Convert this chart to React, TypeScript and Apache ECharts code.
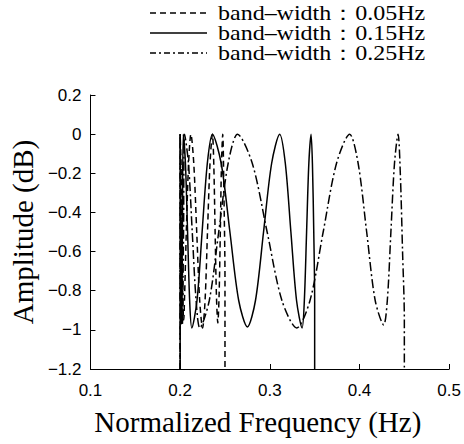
import React, { useEffect, useRef } from "react";
import * as echarts from "echarts";

const seriesNames = [
  "band–width：0.05Hz",
  "band–width：0.15Hz",
  "band–width：0.25Hz",
];

const xTicks = [0.1, 0.2, 0.3, 0.4, 0.5];
const yTicks = [-1.2, -1, -0.8, -0.6, -0.4, -0.2, 0, 0.2];

const bw005: [number, number][] = [
  [0.2, -1.2], [0.2, 0], [0.201, -0.15], [0.202, -0.5], [0.203, -0.85], [0.204, -0.95],
  [0.205, -0.82], [0.207, -0.48], [0.2095, -0.14], [0.212, 0], [0.2152, -0.15],
  [0.2185, -0.5], [0.2218, -0.85], [0.225, -0.99], [0.2278, -0.85], [0.2305, -0.5],
  [0.2333, -0.15], [0.236, 0], [0.2375, -0.15], [0.239, -0.5], [0.2405, -0.83],
  [0.242, -0.965], [0.2434, -0.83], [0.2448, -0.5], [0.2461, -0.15], [0.2475, 0],
  [0.2488, -0.3], [0.25, -0.75], [0.25, -1.2],
];

const bw015: [number, number][] = [
  [0.2, -1.2], [0.2, 0], [0.2008, -0.5], [0.2015, -0.97], [0.2025, -0.5], [0.2035, 0],
  [0.2059, -0.15], [0.2083, -0.5], [0.2106, -0.85], [0.213, -0.99], [0.2188, -0.85],
  [0.2245, -0.5], [0.2303, -0.15], [0.236, 0], [0.2458, -0.15], [0.2555, -0.5],
  [0.2653, -0.85], [0.275, -0.985], [0.284, -0.85], [0.293, -0.5], [0.302, -0.15],
  [0.311, 0], [0.3173, -0.15], [0.3235, -0.5], [0.3298, -0.85], [0.336, -0.99],
  [0.3385, -0.85], [0.341, -0.5], [0.3435, -0.15], [0.346, 0], [0.3475, -0.15],
  [0.349, -0.5], [0.35, -0.85], [0.35, -1.2],
];

const bw025: [number, number][] = [
  [0.2, -1.2], [0.2, 0], [0.2012, -0.5], [0.2025, -0.97], [0.2038, -0.5], [0.205, 0],
  [0.2093, -0.15], [0.2135, -0.5], [0.2178, -0.85], [0.222, -0.99], [0.2325, -0.85],
  [0.243, -0.5], [0.2535, -0.15], [0.264, 0], [0.2805, -0.15], [0.297, -0.5],
  [0.3135, -0.85], [0.33, -0.99], [0.3448, -0.85], [0.3595, -0.5], [0.3743, -0.15],
  [0.389, 0], [0.3985, -0.15], [0.408, -0.5], [0.4175, -0.85], [0.427, -0.975],
  [0.431, -0.85], [0.435, -0.5], [0.439, -0.15], [0.443, 0], [0.4455, -0.2],
  [0.448, -0.6], [0.45, -0.95], [0.45, -1.2],
];

const seriesData = [bw005, bw015, bw025];
const dashTypes: any[] = [[6, 4], "solid", [9, 3, 2, 3]];
const legendDash: any[] = [[6, 4], null, [6, 3, 2, 3]];

const SERIF = "'Liberation Serif', 'Times New Roman', serif";
const SANS = "'Liberation Sans', Arial, sans-serif";

export default function App() {
  const ref = useRef<HTMLDivElement>(null);
  useEffect(() => {
    if (!ref.current) return;
    const chart = echarts.init(ref.current, undefined, { renderer: "svg" });
    const fmt = (v: number) => {
      const r = Math.round(v * 10) / 10;
      return String(r).replace("-", "−");
    };
    const legendRows = [13, 33, 53];
    const graphic: any[] = [];
    seriesNames.forEach((name, i) => {
      graphic.push({
        type: "line",
        shape: { x1: 150, y1: legendRows[i], x2: 207, y2: legendRows[i] },
        style: { stroke: "#000", lineWidth: 1.4, lineDash: legendDash[i] || undefined },
      });
      graphic.push({
        type: "text",
        x: 218,
        y: legendRows[i],
        scaleX: 1.2,
        style: {
          text: name,
          fontFamily: SERIF,
          fontSize: 20,
          lineHeight: 20,
          fill: "#000",
          verticalAlign: "middle",
          align: "left",
        },
      });
    });
    chart.setOption({
      animation: false,
      backgroundColor: "#fff",
      graphic,
      grid: { left: 82, top: 95, right: 14, bottom: 75, containLabel: false },
      xAxis: {
        type: "value",
        min: xTicks[0],
        max: xTicks[xTicks.length - 1],
        interval: 0.1,
        name: "Normalized Frequency (Hz)",
        nameLocation: "middle",
        nameGap: 38,
        nameTextStyle: {
          fontFamily: SERIF,
          fontSize: 29,
          color: "#000",
          padding: [0, 24, 0, 0],
        },
        axisLine: { onZero: false, lineStyle: { color: "#000", width: 1 } },
        axisTick: { inside: true, length: 5, lineStyle: { color: "#000" } },
        axisLabel: { fontFamily: SANS, fontSize: 17, color: "#000", margin: 13, formatter: fmt },
        splitLine: { show: false },
      },
      yAxis: {
        type: "value",
        min: yTicks[0],
        max: yTicks[yTicks.length - 1],
        interval: 0.2,
        name: "Amplitude (dB)",
        nameLocation: "middle",
        nameGap: 53,
        nameTextStyle: { fontFamily: SERIF, fontSize: 29, color: "#000" },
        axisLine: { show: true, onZero: false, lineStyle: { color: "#000", width: 1 } },
        axisTick: { show: true, inside: true, length: 5, lineStyle: { color: "#000" } },
        axisLabel: { fontFamily: SANS, fontSize: 17, color: "#000", margin: 9, formatter: fmt },
        splitLine: { show: false },
      },
      series: seriesData.map((d, i) => ({
        name: seriesNames[i],
        type: "line",
        data: d,
        symbol: "none",
        smooth: 0.3,
        lineStyle: { color: "#000", width: 1.5, type: dashTypes[i] },
        itemStyle: { color: "#000" },
        z: 3 - i,
      })),
    });
    return () => chart.dispose();
  }, []);
  return (
    <div
      ref={ref}
      style={{ position: "absolute", left: 0, top: 0, width: 464, height: 444 }}
    />
  );
}
